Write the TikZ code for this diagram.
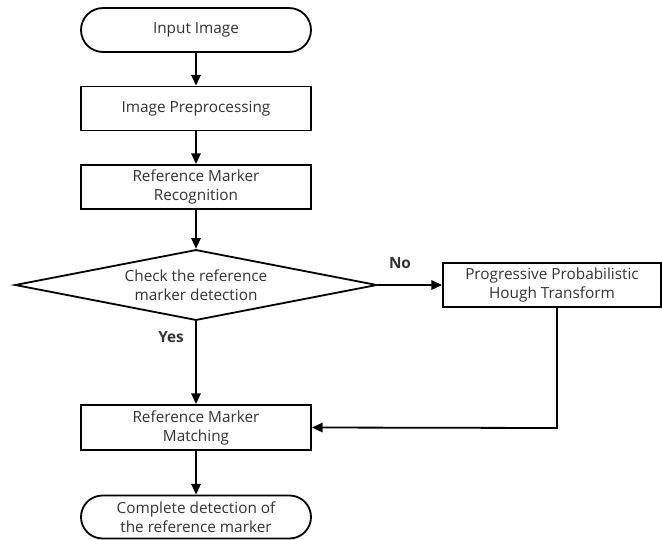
\documentclass[tikz,border=0pt]{standalone}
\usepackage{fontspec}
\setmainfont{Open Sans}
\usetikzlibrary{shapes.geometric,shapes.misc,arrows.meta}
\definecolor{FlowText}{HTML}{333333}

\begin{document}
\begin{tikzpicture}[x=0.75pt,y=-0.75pt,
    box/.style={draw,line width=1.35pt,minimum width=172.5pt,minimum height=33pt,
      inner sep=0pt,align=center,text=FlowText,font=\fontsize{11.5}{14.25}\selectfont},
    term/.style={box,rounded rectangle},
    check/.style={box,diamond,aspect=5.1,minimum width=271.5pt,minimum height=53pt},
    flow/.style={line width=1.35pt,-{Triangle[length=8pt,width=7pt]}},
    answer/.style={font=\fontsize{11.5}{14}\selectfont\bfseries,text=FlowText}]
  \useasboundingbox (0,0) rectangle (662,540);
  \node[term] (input) at (196,30) {Input Image};
  \node[box] (prep) at (196,108.5) {Image Preprocessing};
  \node[box] (recog) at (196,187) {Reference Marker\\Recognition};
  \node[check] (detect) at (196,285) {Check the reference\\marker detection};
  \node[box,minimum width=163.5pt] (hough) at (552,285) {Progressive Probabilistic\\Hough Transform};
  \node[box,minimum height=33.75pt] (match) at (196,427.5) {Reference Marker\\Matching};
  \node[term,minimum height=32.25pt] (done) at (196,517) {Complete detection of\\the reference marker};
  \coordinate (turn) at (557,428);
  \node[answer] (no) at (400,263) {No};
  \node[answer] (yes) at (171,337) {Yes};
  \draw[flow] (input) -- (prep);
  \draw[flow] (prep) -- (recog);
  \draw[flow] (recog) -- (detect);
  \draw[flow] (detect.east) -- (hough);
  \draw[flow] (detect.south) -- (match);
  \draw[flow] (hough.south -| turn) -- (turn) -- (match.east);
  \draw[flow] (match) -- (done);
\end{tikzpicture}
\end{document}
